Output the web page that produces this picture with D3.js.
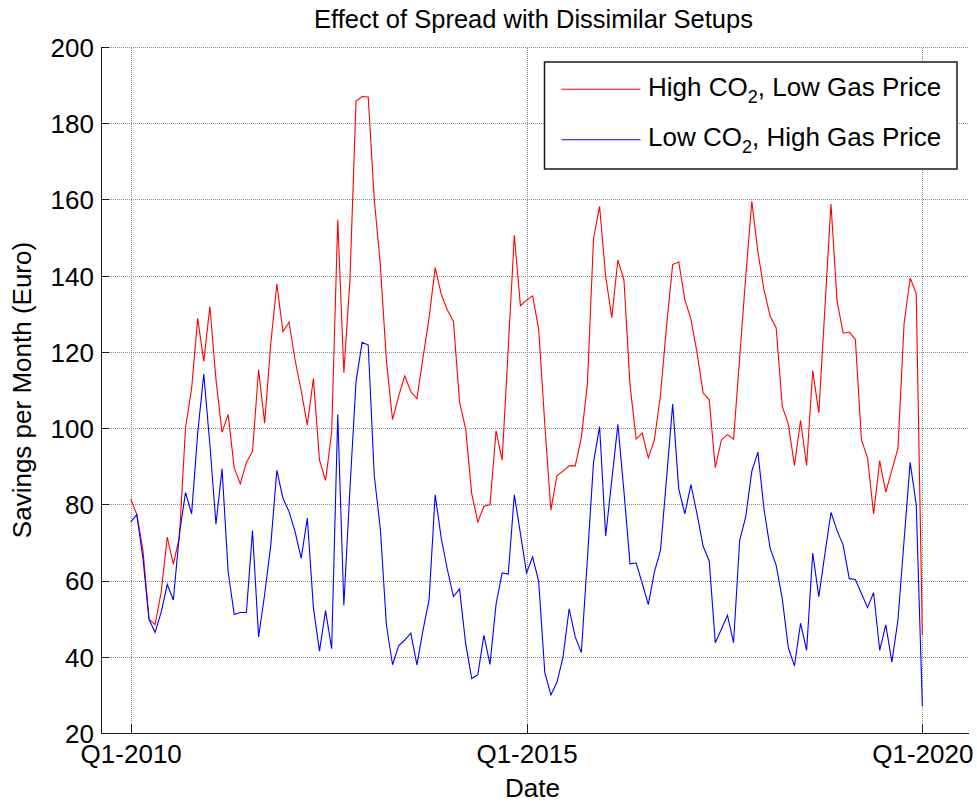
<!DOCTYPE html>
<html>
<head>
<meta charset="utf-8">
<script src="https://cdnjs.cloudflare.com/ajax/libs/d3/7.8.5/d3.min.js"></script>
<style>
  body { margin: 0; background: #fff; }
  svg text { font-family: "Liberation Sans", Arial, sans-serif; fill: #000; }
  .grid line { stroke: #8c8c8c; stroke-dasharray: 1,1; shape-rendering: crispEdges; }
  .grid path { display: none; }
  .axis path, .axis line { stroke: #1a1a1a; shape-rendering: crispEdges; }
</style>
</head>
<body>
<div id="chart"></div>
<script>
// 4-weekly periods, index 0 = Q1-2010 ... 130 = Q1-2020
var X_TICKS = [0, 65, 130],
    X_LABELS = ["Q1-2010", "Q1-2015", "Q1-2020"],
    Y_TICKS = [20, 40, 60, 80, 100, 120, 140, 160, 180, 200];

var HIGH_CO2_LOW_GAS = [
  81.4, 77.3, 68.1, 49.9, 48.4, 57.0, 71.4, 64.3, 71.4, 100.1,
  110.4, 128.8, 117.5, 131.9, 112.8, 98.9, 103.6, 89.5, 85.4, 91.0,
  93.9, 115.3, 101.3, 122.2, 137.8, 125.3, 127.8, 117.8, 109.8, 100.8,
  113.0, 91.6, 86.3, 98.9, 154.7, 114.5, 138.9, 185.8, 187.0, 186.9,
  160.0, 142.7, 117.5, 102.2, 108.4, 113.7, 109.6, 107.7, 118.5, 129.0,
  142.1, 135.1, 131.0, 128.0, 106.9, 99.8, 82.8, 75.4, 79.5, 79.9,
  99.3, 91.6, 121.0, 150.6, 132.1, 133.6, 134.7, 125.9, 101.0, 78.5,
  87.5, 88.7, 90.1, 90.1, 97.5, 111.6, 149.7, 158.2, 139.8, 129.0,
  144.1, 138.9, 111.2, 97.1, 98.7, 92.2, 96.9, 108.7, 126.9, 142.9,
  143.6, 133.7, 128.6, 119.8, 109.2, 107.5, 89.6, 96.9, 98.3, 97.1,
  118.4, 139.8, 159.5, 146.2, 136.2, 129.4, 126.3, 105.7, 101.0, 90.2,
  102.0, 90.2, 115.1, 104.0, 131.5, 158.8, 133.3, 124.9, 125.2, 123.3,
  96.9, 92.2, 77.5, 91.4, 83.2, 89.0, 94.7, 127.4, 139.4, 135.3,
  45.8
];

var LOW_CO2_HIGH_GAS = [
  75.4, 77.3, 66.0, 49.9, 46.4, 51.7, 59.0, 54.9, 72.3, 83.1,
  77.5, 98.7, 114.2, 95.7, 74.8, 89.3, 62.3, 51.1, 51.6, 51.6,
  73.1, 45.2, 56.4, 69.3, 88.9, 81.6, 78.1, 72.8, 65.8, 76.4,
  52.9, 41.5, 52.1, 42.1, 103.6, 53.5, 84.0, 112.2, 122.5, 121.8,
  87.5, 73.4, 48.2, 37.9, 42.9, 44.4, 46.2, 37.9, 47.0, 55.0,
  82.5, 71.1, 62.9, 55.8, 57.8, 43.5, 34.3, 35.3, 45.6, 38.0,
  53.8, 62.0, 61.7, 82.5, 72.3, 62.0, 66.2, 59.7, 35.9, 30.0,
  33.3, 40.0, 52.6, 45.2, 41.1, 65.8, 91.0, 100.4, 71.7, 86.3,
  101.0, 83.4, 64.4, 64.6, 59.3, 53.7, 62.3, 67.9, 86.9, 106.3,
  84.0, 77.5, 85.2, 77.5, 69.0, 65.2, 43.7, 47.2, 50.9, 43.7,
  70.5, 76.8, 88.7, 93.7, 78.7, 68.5, 64.0, 55.2, 42.3, 37.6,
  48.8, 41.7, 67.2, 55.8, 67.0, 77.9, 73.1, 69.3, 60.5, 60.3,
  56.6, 52.9, 56.8, 41.7, 48.4, 38.6, 49.7, 70.5, 91.0, 79.9,
  27.1
];

var SERIES = [
  {name: ["High CO", "2", ", Low Gas Price"], values: HIGH_CO2_LOW_GAS, color: "#ff0000"},
  {name: ["Low CO", "2", ", High Gas Price"], values: LOW_CO2_HIGH_GAS, color: "#0000ff"}
];

var W = 977, H = 803,
    margin = {top: 47, right: 9, bottom: 70, left: 101},
    width = W - margin.left - margin.right,
    height = H - margin.top - margin.bottom;

var x = d3.scaleLinear().domain([-4.88, 137.5]).range([0, width]),
    y = d3.scaleLinear().domain([20, 200]).range([height, 0]);

var svg = d3.select("#chart").append("svg")
    .attr("width", W)
    .attr("height", H);

var g = svg.append("g")
    .attr("transform", "translate(" + margin.left + "," + margin.top + ")");

// dotted grid
g.append("g")
    .attr("class", "grid")
    .call(d3.axisLeft(y).tickValues(Y_TICKS).tickSize(-width).tickFormat(""));
g.append("g")
    .attr("class", "grid")
    .attr("transform", "translate(0," + height + ")")
    .call(d3.axisBottom(x).tickValues(X_TICKS).tickSize(height).tickFormat(""))
    .selectAll("line").attr("y2", -height);

// series
var line = d3.line()
    .x(function(d, i) { return x(i); })
    .y(function(d) { return y(d); });

g.selectAll(".series")
    .data(SERIES)
    .enter().append("path")
    .attr("class", "series")
    .attr("fill", "none")
    .attr("stroke", function(d) { return d.color; })
    .attr("stroke-width", 1.1)
    .attr("d", function(d) { return line(d.values); });

// axes, ticks pointing inward
var yAxis = g.append("g")
    .attr("class", "axis")
    .call(d3.axisLeft(y).tickValues(Y_TICKS).tickSizeInner(-8).tickSizeOuter(0).tickPadding(7));
yAxis.selectAll("text")
    .style("font-size", "26px")
    .attr("dy", "0.36em");

var xAxis = g.append("g")
    .attr("class", "axis")
    .attr("transform", "translate(0," + height + ")")
    .call(d3.axisBottom(x).tickValues(X_TICKS)
      .tickFormat(function(d, i) { return X_LABELS[i]; })
      .tickSizeInner(-9).tickSizeOuter(0).tickPadding(12));
xAxis.selectAll("text")
    .style("font-size", "26px");

// title and labels
svg.append("text")
    .attr("x", margin.left + width / 2 - 1)
    .attr("y", 28)
    .attr("text-anchor", "middle")
    .style("font-size", "25.5px")
    .text("Effect of Spread with Dissimilar Setups");

svg.append("text")
    .attr("x", margin.left + width / 2 - 2)
    .attr("y", 797)
    .attr("text-anchor", "middle")
    .style("font-size", "26px")
    .text("Date");

svg.append("text")
    .attr("transform", "translate(31," + (margin.top + height / 2) + ") rotate(-90)")
    .attr("text-anchor", "middle")
    .style("font-size", "26px")
    .text("Savings per Month (Euro)");

// legend
var legend = svg.append("g")
    .attr("transform", "translate(544.5,62)");

legend.append("rect")
    .attr("width", 412.5)
    .attr("height", 107)
    .attr("fill", "#fff")
    .attr("stroke", "#1a1a1a")
    .attr("stroke-width", 1.5);

var item = legend.selectAll(".item")
    .data(SERIES)
    .enter().append("g")
    .attr("class", "item")
    .attr("transform", function(d, i) { return "translate(0," + (27.3 + i * 50.5) + ")"; });

item.append("line")
    .attr("x1", 17).attr("x2", 96)
    .attr("stroke", function(d) { return d.color; })
    .attr("stroke-width", 1.1);

var label = item.append("text")
    .attr("x", 103.5)
    .attr("y", 6.5)
    .style("font-size", "26px");
label.append("tspan").text(function(d) { return d.name[0]; });
label.append("tspan")
    .attr("dy", 7)
    .style("font-size", "18px")
    .text(function(d) { return d.name[1]; });
label.append("tspan")
    .attr("dy", -7)
    .text(function(d) { return d.name[2]; });
</script>
</body>
</html>
